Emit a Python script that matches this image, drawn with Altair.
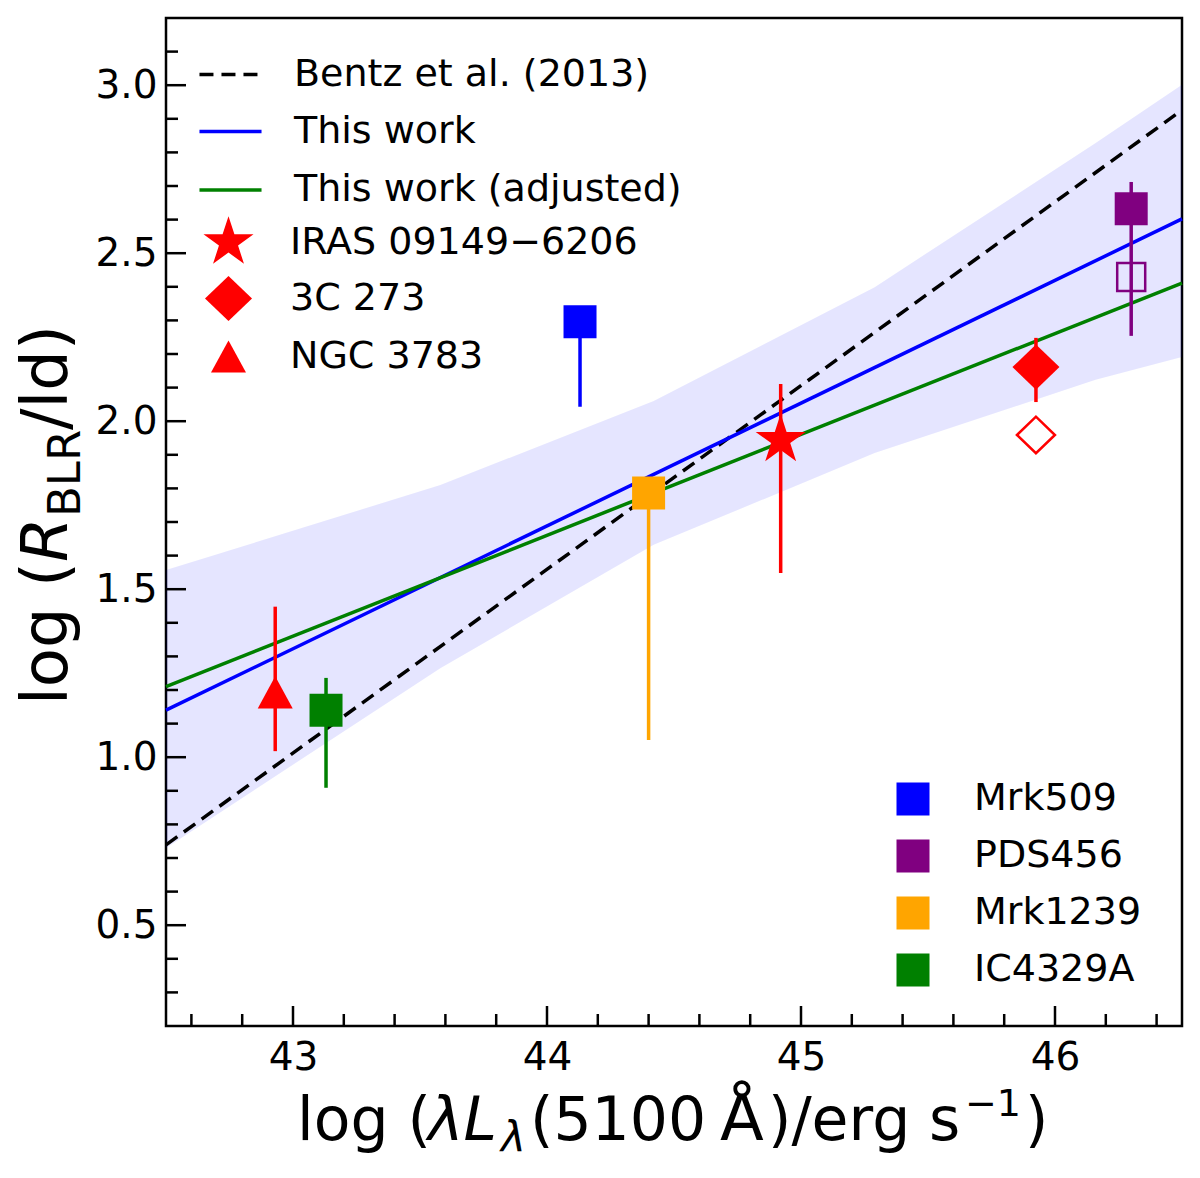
import math
import altair as alt
import pandas as pd

# ---- values ----
bentz_name = ["Bentz et al. (2013)"]
fit_names = ["This work", "This work (adjusted)"]
fit_colors = ["blue", "green"]
fit_x = [42.5, 46.5]
fit_y_bentz = [0.739, 2.926]
fit_y_this = [1.140, 2.602]
fit_y_adj = [1.210, 2.411]

band_x = [42.5, 43.58, 44.42, 45.29, 46.16, 46.5]
band_lo = [0.730, 1.265, 1.632, 1.905, 2.123, 2.191]
band_hi = [1.557, 1.810, 2.060, 2.399, 2.828, 3.001]

src_names = ["IRAS 09149\u22126206", "3C 273", "NGC 3783"]
src_x = [44.92, 45.925, 42.93]
src_y = [1.944, 2.161, 1.193]
src_lo = [1.548, 2.057, 1.018]
src_hi = [2.111, 2.248, 1.448]

obj_names = ["Mrk509", "PDS456", "Mrk1239", "IC4329A"]
obj_colors = ["blue", "purple", "orange", "green"]
obj_x = [44.13, 46.30, 44.40, 43.13]
obj_y = [2.296, 2.632, 1.786, 1.140]
obj_lo = [2.043, 2.254, 1.051, 0.909]
obj_hi = [2.296, 2.712, 1.786, 1.236]

# open symbols (before adjustment)
open_dia_x, open_dia_y = [45.925], [1.959]
open_sq_x, open_sq_y = [46.30], [2.429]

x_major = [43, 44, 45, 46]
x_minor = [round(42.6 + 0.2 * i, 1) for i in range(20)]
x_minor = [v for v in x_minor if v not in x_major]
y_major = [0.5, 1.0, 1.5, 2.0, 2.5, 3.0]
y_minor = [round(0.3 + 0.1 * i, 1) for i in range(29)]
y_minor = [v for v in y_minor if v not in y_major]

# ---- shapes ----
star_pts = []
for k in range(10):
    ang = math.radians(-90 + 36 * k)
    r = 1.0 if k % 2 == 0 else 0.382
    star_pts.append(f"{r * math.cos(ang):.3f},{r * math.sin(ang):.3f}")
STAR = "M" + "L".join(star_pts) + "Z"
DIAMOND = "M-0.894,0L0,-0.86L0.894,0L0,0.86Z"
TRIANGLE = "M0,-0.61L-0.665,0.61L0.665,0.61Z"
LINE = "M-1.18,0L1.18,0"
DASH = [14, 8]

FONT = "DejaVu Sans"
W, H = 1016, 1008

xs = alt.Scale(domain=[42.5, 46.5], nice=False, zero=False)
ys = alt.Scale(domain=[0.2, 3.2], nice=False, zero=False)
x_ax = alt.Axis(values=x_major, format=".0f", title=None, labelPadding=12)
y_ax = alt.Axis(values=y_major, format=".1f", title=None, labelPadding=9)


def X(f="x"):
    return alt.X(f"{f}:Q", scale=xs, axis=x_ax)


def Y(f="y"):
    return alt.Y(f"{f}:Q", scale=ys, axis=y_ax)


def legend(x, y, **kw):
    opts = dict(title=None, orient="none", legendX=x, legendY=y, padding=0,
                labelFont=FONT, labelFontSize=38, labelColor="black", labelLimit=1000)
    opts.update(kw)
    return alt.Legend(**opts)


band_df = pd.DataFrame({"x": band_x, "lo": band_lo, "hi": band_hi})
bentz_df = pd.DataFrame({"name": bentz_name * 2, "x": fit_x, "y": fit_y_bentz})
lines_df = pd.DataFrame({
    "name": [n for n in fit_names for _ in fit_x],
    "x": fit_x * 2,
    "y": fit_y_this + fit_y_adj,
})
src_df = pd.DataFrame({"name": src_names, "x": src_x, "y": src_y, "lo": src_lo, "hi": src_hi})
obj_df = pd.DataFrame({"name": obj_names, "x": obj_x, "y": obj_y, "lo": obj_lo, "hi": obj_hi})

band = alt.Chart(band_df).mark_area(color="blue", opacity=0.1).encode(
    x=X(), y=Y("lo"), y2="hi:Q")

line_leg = dict(symbolType=LINE, symbolSize=2766, symbolStrokeWidth=3.5, labelOffset=35, rowPadding=10.5)
bentz = alt.Chart(bentz_df).mark_line(strokeWidth=3.5, strokeDash=DASH).encode(
    x=X(), y=Y(),
    color=alt.Color("name:N", scale=alt.Scale(domain=bentz_name, range=["black"]),
                    legend=legend(36, 28, symbolDash=DASH, **line_leg)),
)
lines = alt.Chart(lines_df).mark_line(strokeWidth=3.5).encode(
    x=X(), y=Y(),
    color=alt.Color("name:N", scale=alt.Scale(domain=fit_names, range=fit_colors),
                    legend=legend(36, 85, **line_leg)),
)

src_err = alt.Chart(src_df).mark_rule(color="red", strokeWidth=3.5).encode(
    x=X(), y=Y("lo"), y2="hi:Q")
obj_err = alt.Chart(obj_df).mark_rule(strokeWidth=3.5).encode(
    x=X(), y=Y("lo"), y2="hi:Q",
    color=alt.Color("name:N", scale=alt.Scale(domain=obj_names, range=obj_colors), legend=None))

open_dia = alt.Chart(pd.DataFrame({"x": open_dia_x, "y": open_dia_y})).mark_point(
    shape=DIAMOND, size=1806, color="red", filled=False, strokeWidth=2.5, opacity=1).encode(x=X(), y=Y())
open_sq = alt.Chart(pd.DataFrame({"x": open_sq_x, "y": open_sq_y})).mark_point(
    shape="square", size=784, color="purple", filled=False, strokeWidth=2.5, opacity=1).encode(x=X(), y=Y())

src_pts = alt.Chart(src_df).mark_point(filled=True, color="red", size=2766, opacity=1, strokeWidth=0).encode(
    x=X(), y=Y(),
    shape=alt.Shape("name:N", scale=alt.Scale(domain=src_names, range=[STAR, DIAMOND, TRIANGLE]),
                    legend=legend(36, 198, symbolSize=2766, symbolFillColor="red", symbolStrokeColor="red",
                                  symbolStrokeWidth=0, symbolOpacity=1, labelOffset=35, rowPadding=8)))

obj_pts = alt.Chart(obj_df).mark_point(filled=True, shape="square", size=1089, opacity=1, strokeWidth=0).encode(
    x=X(), y=Y(),
    color=alt.Color("name:N", scale=alt.Scale(domain=obj_names, range=obj_colors),
                    legend=legend(728, 762, symbolType="square", symbolSize=1089, symbolStrokeWidth=0,
                                  symbolOpacity=1, labelOffset=42, rowPadding=19)))


# inward ticks on the bottom and left spines
def xticks(vals, length):
    return alt.Chart(pd.DataFrame({"x": vals})).mark_rule(color="black", strokeWidth=2.5).encode(
        x=X(), y=alt.value(H), y2=alt.value(H - length))


def yticks(vals, length):
    return alt.Chart(pd.DataFrame({"y": vals})).mark_rule(color="black", strokeWidth=2.5).encode(
        y=Y(), x=alt.value(0), x2=alt.value(length))


one = pd.DataFrame({"k": [0]})


def piece(txt, x, y, size, italic=False, angle=0):
    return alt.Chart(one).mark_text(
        text=txt, font=FONT, fontSize=size, fontStyle="italic" if italic else "normal",
        align="left", baseline="alphabetic", angle=angle, color="black",
    ).encode(x=alt.value(x), y=alt.value(y))


xb = 1122
x_title = [
    piece("log (", 131, xb, 60),
    piece("\u03bbL", 262, xb, 60, italic=True),
    piece("\u03bb", 335, xb + 12, 42, italic=True),
    piece("(5100", 364, xb, 60),
    piece("\u00c5", 554, xb, 64),
    piece(")/erg", 602, xb, 60),
    piece("s", 763, xb, 60),
    piece("\u22121", 799, xb - 24, 38),
    piece(")", 859, xb, 60),
]
yb = -99
y_title = [
    piece("log (", yb, 687, 64, angle=270),
    piece("R", yb, 544, 64, italic=True, angle=270),
    piece("BLR", yb + 13, 499, 45, angle=270),
    piece("/ld)", yb, 412, 64, angle=270),
]

chart = alt.layer(
    band, bentz, lines, src_err, obj_err, open_dia, open_sq, src_pts, obj_pts,
    xticks(x_major, 20), xticks(x_minor, 12), yticks(y_major, 20), yticks(y_minor, 12),
    *x_title, *y_title,
).resolve_scale(
    color="independent"
).properties(
    width=W, height=H,
    padding={"left": 158, "top": 10, "right": 10, "bottom": 144},
    autosize=alt.AutoSizeParams(type="none"),
).configure(
    font=FONT
).configure_view(
    stroke="black", strokeWidth=2.5
).configure_axis(
    ticks=False, domain=False, grid=False,
    labelFont=FONT, labelFontSize=39, labelColor="black",
)

chart.save("out.html", embed_options={"renderer": "svg", "actions": False})
